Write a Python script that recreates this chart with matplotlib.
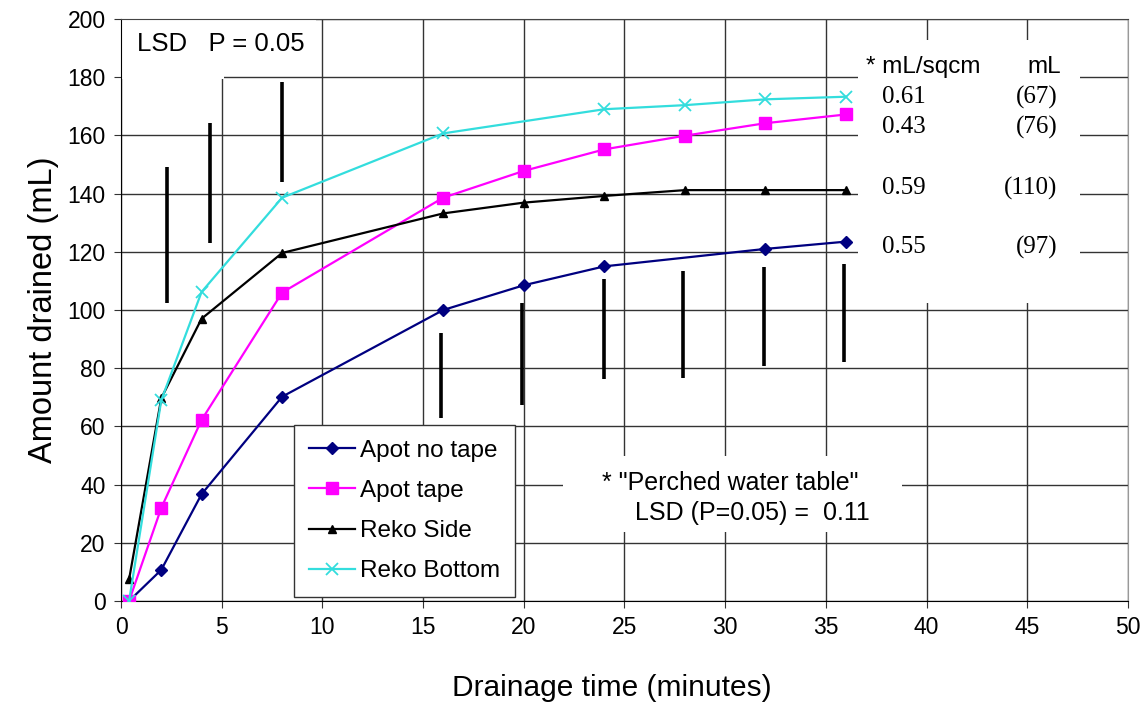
import matplotlib.pyplot as plt
from matplotlib.patches import Rectangle

plt.rcParams['font.family'] = ['Liberation Sans', 'DejaVu Sans']

# drainage times (minutes)
t_all = [0.4, 2, 4, 8, 16, 20, 24, 28, 32, 36]
t_notape = [0.4, 2, 4, 8, 16, 20, 24, 32, 36]
t_bottom = [0.4, 2, 4, 8, 16, 24, 28, 32, 36]

apot_notape = [0, 10.7, 36.7, 70.2, 100, 108.5, 115, 121, 123.5]
apot_tape = [0, 32, 62.2, 106, 138.6, 147.8, 155.2, 159.9, 164.2, 167.2]
reko_side = [7.4, 69.7, 97, 119.6, 133.2, 136.9, 139.2, 141.2, 141.2, 141.2]
reko_bottom = [0, 69, 106.2, 138.6, 160.7, 169, 170.4, 172.4, 173.3]

# LSD bars (P = 0.05)
lsd_x = [2.3, 4.4, 8.0, 15.9, 19.9, 24.0, 27.9, 31.95, 35.9]
lsd_lo = [102.4, 122.9, 144.1, 62.9, 67.4, 76.3, 76.7, 80.9, 82.2]
lsd_hi = [149.2, 164.1, 178.5, 92.1, 102.4, 110.6, 113.5, 114.9, 115.8]

# perched water table per treatment
pwt_sqcm = ['0.61', '0.43', '0.59', '0.55']
pwt_ml = ['(67)', '(76)', '(110)', '(97)']
pwt_y = [173.2, 162.9, 141.9, 121.6]

fig = plt.figure(figsize=(11.47, 7.02), dpi=100)
ax = fig.add_axes([0.1055, 0.1439, 0.8779, 0.829])

ax.plot(t_notape, apot_notape, color='#000080', marker='D', ms=6.5, lw=1.6, label='Apot no tape', zorder=3)
ax.plot(t_all, apot_tape, color='#FF00FF', marker='s', ms=9, lw=1.6, label='Apot tape', zorder=3)
ax.plot(t_all, reko_side, color='black', marker='^', ms=6, lw=1.6, label='Reko Side', zorder=3)
ax.plot(t_bottom, reko_bottom, color='#33DDDD', marker='x', ms=9, mew=1.3, lw=1.6, label='Reko Bottom', zorder=3)

ax.vlines(lsd_x, lsd_lo, lsd_hi, color='black', lw=2.6, zorder=3)

ax.set_xlim(0, 50)
ax.set_ylim(0, 200)
ax.set_xticks(range(0, 51, 5))
ax.set_yticks(range(0, 201, 20))
ax.grid(True, color='#333333', lw=1.0)
ax.set_axisbelow(True)
ax.tick_params(labelsize=16.5, length=5, color='#333333', pad=6)
ax.spines['right'].set_color('#999999')
ax.spines['top'].set_color('#444444')

ax.set_xlabel('Drainage time (minutes)', fontsize=21.5)
ax.xaxis.set_label_coords(0.487, -0.125)
ax.set_ylabel('Amount drained (mL)', fontsize=23.5, labelpad=6)

# white text boxes hiding the grid
for (x0, y0, w, h) in [(0, 179.3, 5.1, 20.7), (5.1, 180.6, 4.6, 19.4),
                       (36.6, 102.4, 11.0, 90.4), (21.95, 23.7, 16.85, 26.1)]:
    ax.add_patch(Rectangle((x0, y0), w, h, facecolor='white', edgecolor='none', zorder=1))

ax.text(0.8, 191.5, 'LSD   P = 0.05', fontsize=18.5, va='center', zorder=4)

ax.text(37.0, 183.5, '* mL/sqcm', fontsize=17.5, va='center', zorder=4)
ax.text(46.7, 183.5, 'mL', fontsize=17.5, va='center', ha='right', zorder=4)
for v, m, y in zip(pwt_sqcm, pwt_ml, pwt_y):
    ax.text(37.8, y, v, fontsize=18, family='Liberation Serif', va='center', zorder=4)
    ax.text(46.5, y, m, fontsize=18, family='Liberation Serif', va='center', ha='right', zorder=4)

ax.text(23.9, 40.5, '* "Perched water table"', fontsize=18, va='center', zorder=4)
ax.text(25.5, 30.2, 'LSD (P=0.05) =  0.11', fontsize=18, va='center', zorder=4)

leg = ax.legend(loc='lower left', bbox_to_anchor=(0.172, 0.007), fontsize=17.5,
                fancybox=False, framealpha=1, edgecolor='#333333',
                handlelength=1.9, handletextpad=0.2, labelspacing=0.75,
                borderpad=0.6, borderaxespad=0)
leg.get_frame().set_linewidth(1.0)
leg.set_zorder(5)

fig.savefig('out.png', dpi=100)
